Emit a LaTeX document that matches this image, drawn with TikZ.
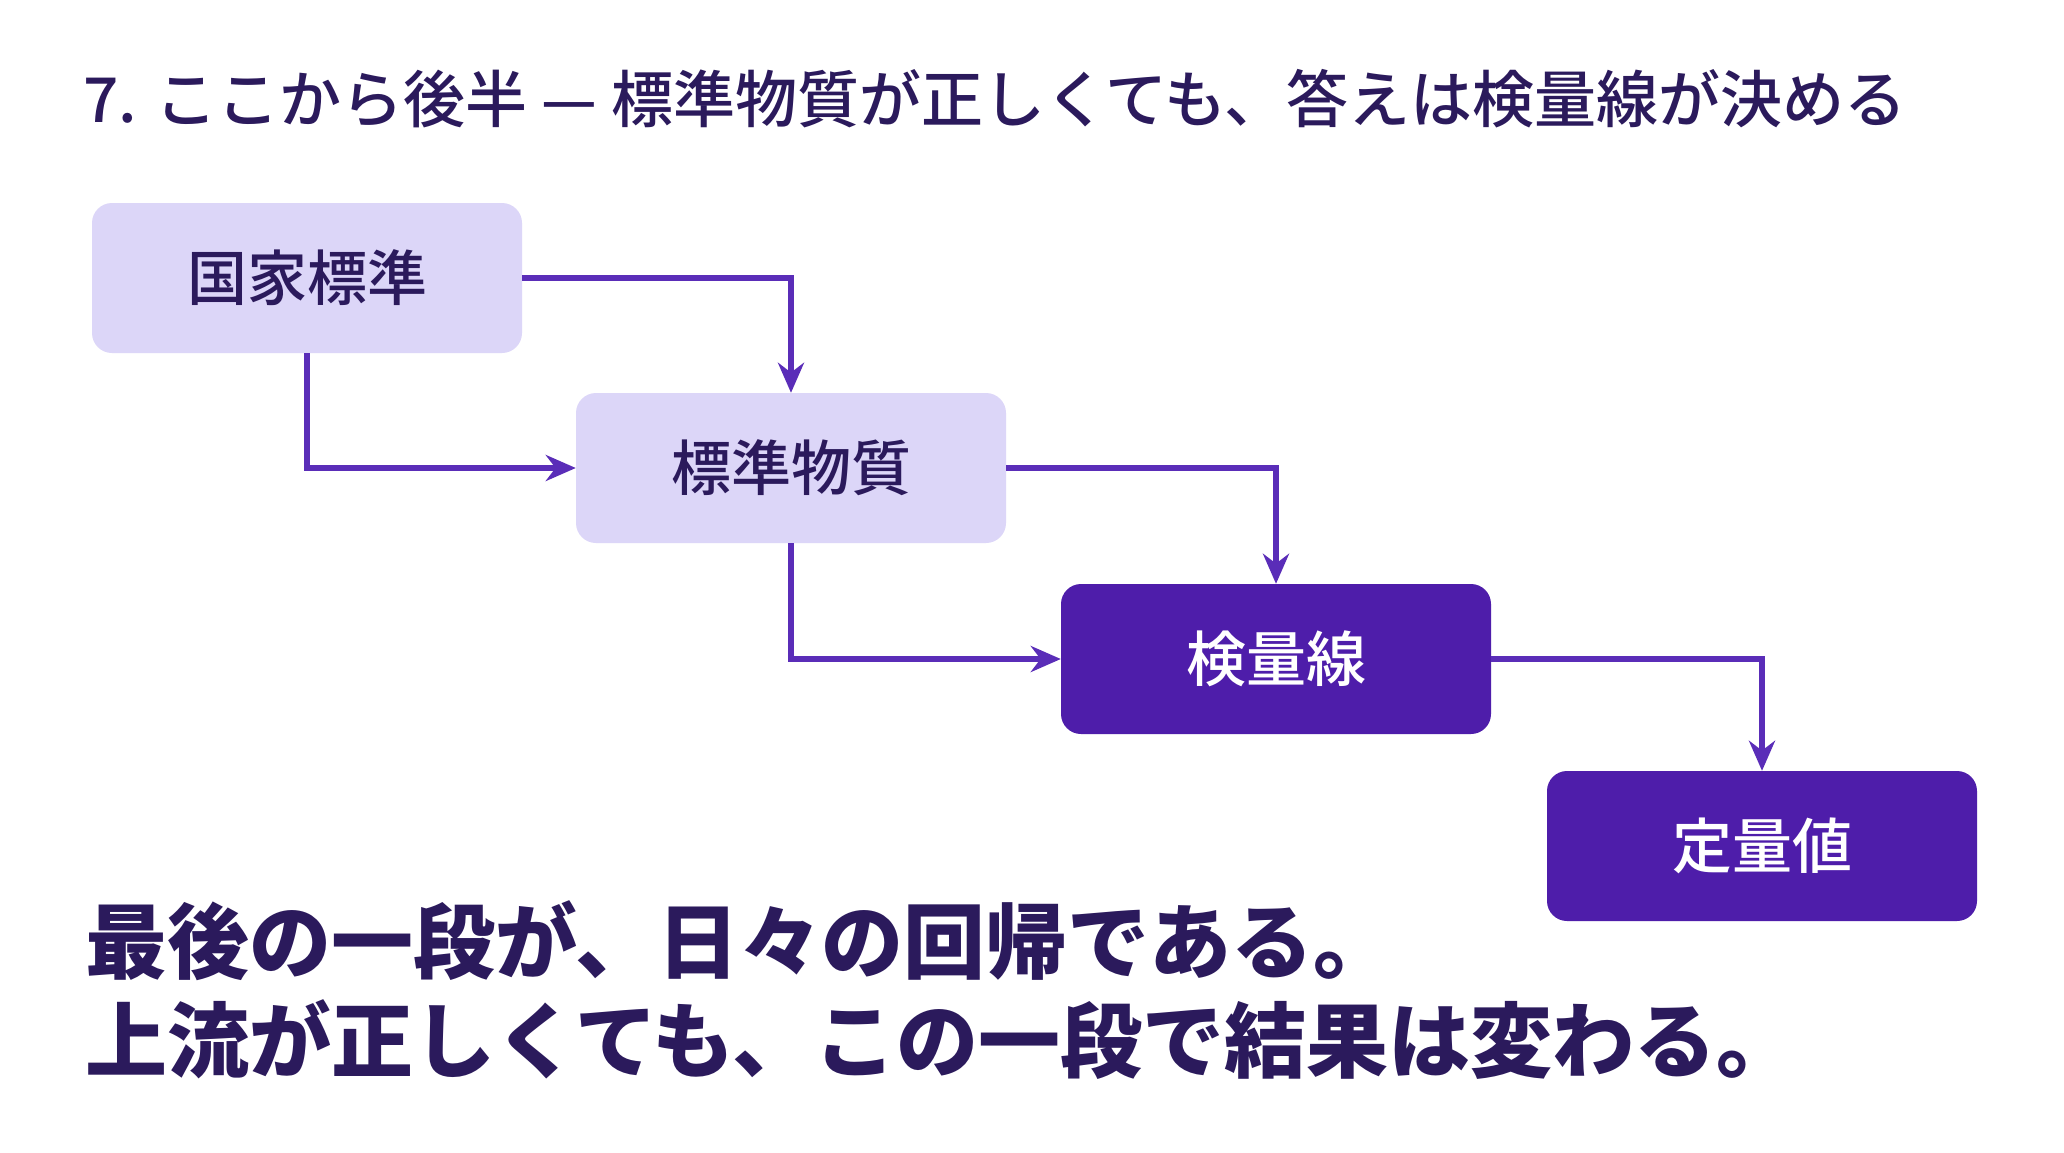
\documentclass[tikz,border=0pt]{standalone}
\usepackage{fontspec}
\setmainfont{Noto Sans CJK JP}
\newfontfamily\cjkmed{Noto Sans CJK JP Medium}
\usetikzlibrary{arrows.meta}
\definecolor{ink}{HTML}{2B1A5C}
\definecolor{lightbox}{HTML}{DCD6F8}
\definecolor{darkbox}{HTML}{4E1DAA}
\definecolor{arr}{HTML}{5A2DB8}
\begin{document}
\begin{tikzpicture}[x=1pt,y=-1pt,
  box/.style={rounded corners=20pt,minimum width=430pt,minimum height=150pt,inner sep=0pt,font=\cjkmed\fontsize{60}{62}\selectfont},
  lbox/.style={box,fill=lightbox,text=ink},
  dbox/.style={box,fill=darkbox,text=white},
  conn/.style={draw=arr,line width=5.5pt,-{Stealth[length=30pt,width=26pt]}}]
\fill[white] (0,0) rectangle (2064,1152);
\useasboundingbox (0,0) rectangle (2064,1152);
\node[anchor=west,text=ink,font=\cjkmed\fontsize{62}{64}\selectfont] (title) at (80,99) {7. ここから後半 — 標準物質が正しくても、答えは検量線が決める};
\node[lbox] (a) at (307,278) {国家標準};
\node[lbox] (b) at (791,468) {標準物質};
\node[dbox] (c) at (1276,659) {検量線};
\node[dbox] (d) at (1762,846) {定量値};
\draw[conn] (a.east) -| (b.north);
\draw[conn] (a.south) |- (b.west);
\draw[conn] (b.east) -| (c.north);
\draw[conn] (b.south) |- (c.west);
\draw[conn] (c.east) -| (d.north);
\node[anchor=west,text=ink,font=\fontsize{82}{84}\selectfont\bfseries] (l1) at (82,941) {最後の一段が、日々の回帰である。};
\node[anchor=west,text=ink,font=\fontsize{82}{84}\selectfont\bfseries] (l2) at (82,1040) {上流が正しくても、この一段で結果は変わる。};
\end{tikzpicture}
\end{document}
